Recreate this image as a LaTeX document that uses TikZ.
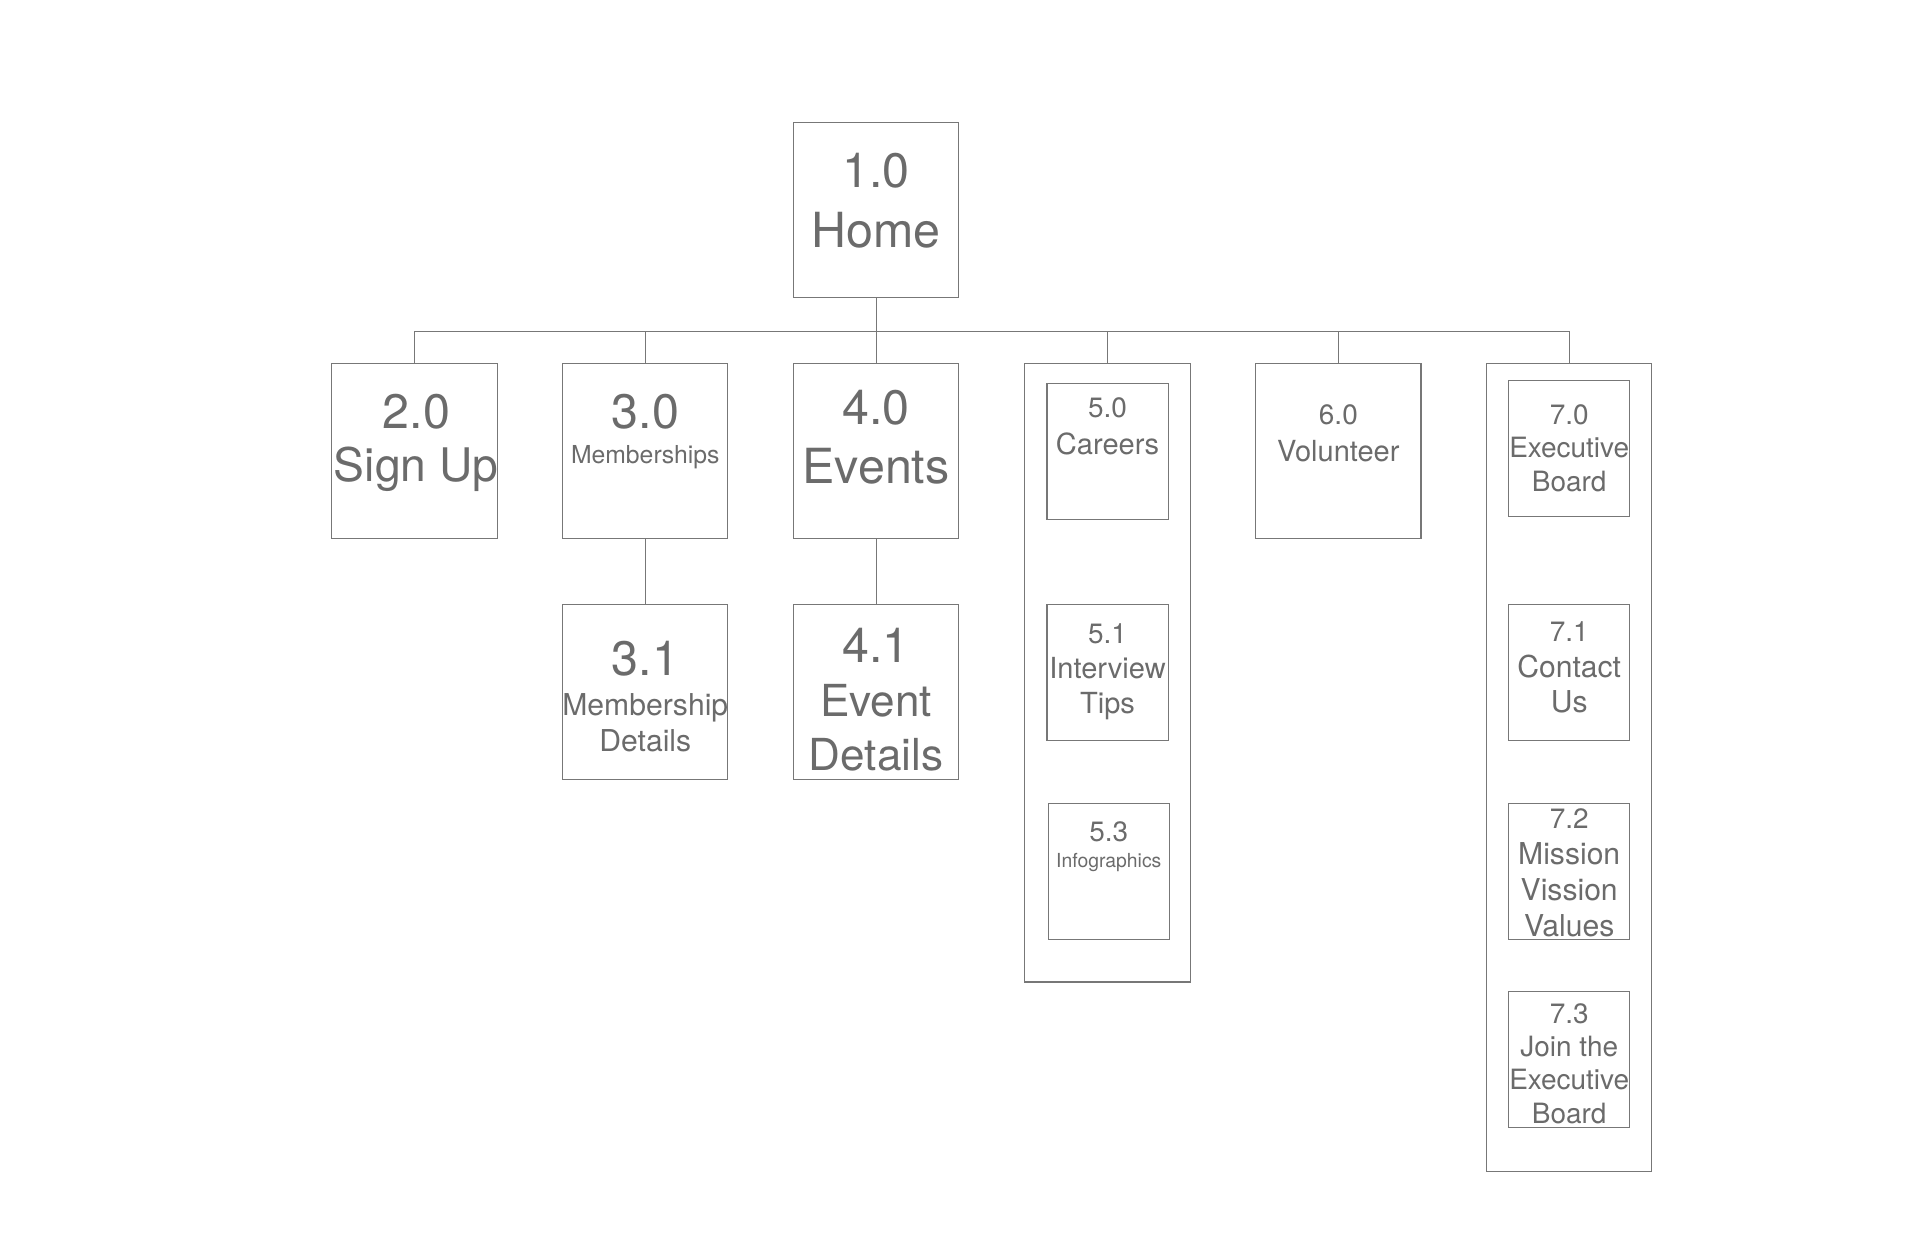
\documentclass[tikz,border=0pt]{standalone}
\usepackage{fontspec}
\setmainfont{TeX Gyre Heros}
\usepackage{xcolor}
\usepackage{tikz}
\usetikzlibrary{calc, positioning}
\definecolor{linegray}{HTML}{777777}
\definecolor{textgray}{HTML}{6B6B6B}
\newcommand{\numbig}{\fontsize{22.5}{27}\selectfont}
\newcommand{\nummid}{\fontsize{13}{16}\selectfont}

\begin{document}
\begin{tikzpicture}
  [x=0.02cm, y={(0cm,-0.02cm)},
   box/.style={draw=linegray, line width=0.5pt, minimum width=2.7cm, minimum height=2.86cm, inner sep=0pt},
   subbox/.style={box, minimum width=1.98cm, minimum height=2.22cm},
   txt/.style={anchor=north, align=center, inner sep=0pt, text=textgray},
   link/.style={draw=linegray, line width=0.5pt}]
  \useasboundingbox (0,0) rectangle (1568,1022.5);

  % boxes %
  \node[box] (n10) at (715.5,171.5) {};
  \node[box] (n20) at (338.5,368.5) {};
  \node[box] (n30) at (527,368.5) {};
  \node[box] (n40) at (715.5,368.5) {};
  \node[box, minimum height=10.1cm] (g5) at (904.5,549.5) {};
  \node[subbox] (n50) at (904.5,368.5) {};
  \node[subbox] (n51) at (904.5,549) {};
  \node[subbox] (n53) at (905.5,711.5) {};
  \node[box] (n60) at (1093,368.5) {};
  \node[box, minimum height=13.2cm] (g7) at (1281.5,627) {};
  \node[subbox] (n70) at (1281.5,366.5) {};
  \node[subbox] (n71) at (1281.5,549) {};
  \node[subbox] (n72) at (1281.5,711.5) {};
  \node[subbox] (n73) at (1281.5,865) {};
  \node[box] (n31) at (527,565) {};
  \node[box] (n41) at (715.5,565) {};

  % texts %
  \node[txt, font={\fontsize{22.5}{27.8}\selectfont}] (t10) at (715.5,125) {1.0\\Home};
  \node[txt, font={\fontsize{21.5}{24.8}\selectfont}] (t20) at (340,321.2) {{\numbig 2.0}\\Sign Up};
  \node[txt, font={\fontsize{11.5}{16.3}\selectfont}] (t30) at (527,321.2) {{\numbig 3.0}\\Memberships};
  \node[txt, font={\fontsize{22.5}{27.5}\selectfont}] (t40) at (715.5,318.5) {4.0\\Events};
  \node[txt, font={\fontsize{13.5}{17.1}\selectfont}] (t50) at (904.5,324.5) {{\nummid 5.0}\\Careers};
  \node[txt, font={\fontsize{13.5}{16.3}\selectfont}] (t51) at (904.5,509) {{\nummid 5.1}\\Interview\\Tips};
  \node[txt, font={\fontsize{9}{11.9}\selectfont}] (t53) at (905.5,671) {{\nummid 5.3}\\Infographics};
  \node[txt, font={\fontsize{13.5}{17.1}\selectfont}] (t60) at (1093,330) {{\nummid 6.0}\\Volunteer};
  \node[txt, font={\fontsize{13}{15.5}\selectfont}] (t70) at (1281.5,330) {{\nummid 7.0}\\Executive\\Board};
  \node[txt, font={\fontsize{14}{16.3}\selectfont}] (t71) at (1281.5,507.7) {{\nummid 7.1}\\Contact\\Us};
  \node[txt, font={\fontsize{14}{16.7}\selectfont}] (t72) at (1281.5,660.1) {{\nummid 7.2}\\Mission\\Vission\\Values};
  \node[txt, font={\fontsize{13}{15.4}\selectfont}] (t73) at (1281.5,819.4) {{\nummid 7.3}\\Join the\\Executive\\Board};
  \node[txt, font={\fontsize{14}{16.6}\selectfont}] (t31) at (527,523.2) {{\numbig 3.1}\\[2pt]Membership\\Details};
  \node[txt, font={\fontsize{20.5}{25.1}\selectfont}] (t41) at (715.5,512.3) {{\numbig 4.1}\\Event\\Details};

  % edges %
  \coordinate (bus) at (715.5,271);
  \draw[link] (n10.south) -- (bus);
  \draw[link] (bus) -| (n20.north);
  \draw[link] (bus) -| (n30.north);
  \draw[link] (bus) -- (n40.north);
  \draw[link] (bus) -| (g5.north);
  \draw[link] (bus) -| (n60.north);
  \draw[link] (bus) -| (g7.north);
  \draw[link] (n30.south) -- (n31.north);
  \draw[link] (n40.south) -- (n41.north);
\end{tikzpicture}
\end{document}
